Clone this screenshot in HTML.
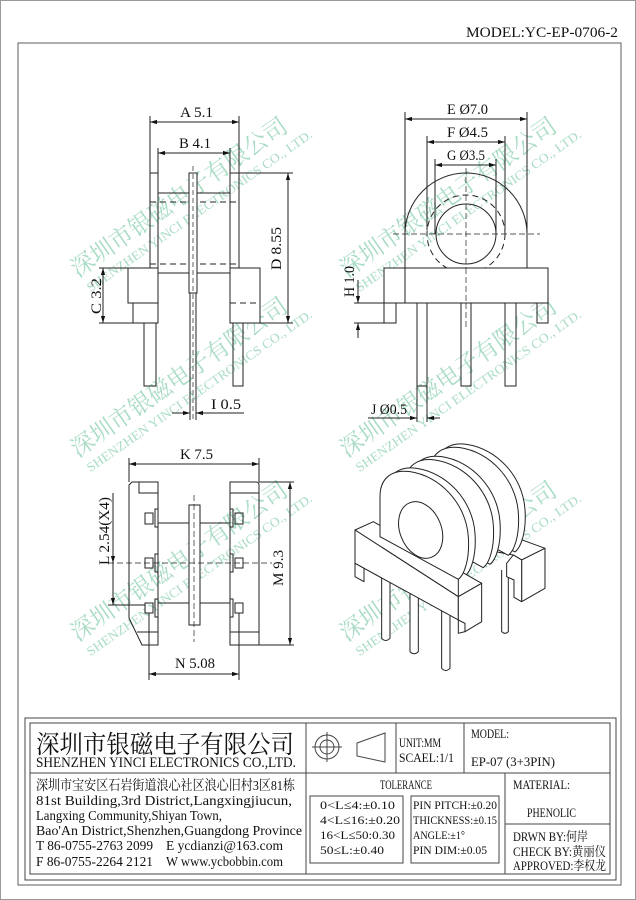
<!DOCTYPE html>
<html><head><meta charset="utf-8"><style>
html,body{margin:0;padding:0;background:#fff;}
svg{display:block;}
text{font-family:"Liberation Serif","Noto Serif CJK SC",serif;fill:#111;}
.wm text{fill:#a9dcc4;}
</style></head><body>
<svg width="636" height="900" viewBox="0 0 636 900" xmlns="http://www.w3.org/2000/svg">
<defs>
<marker id="a" viewBox="0 0 10 10" refX="10" refY="5" markerWidth="7" markerHeight="7" orient="auto-start-reverse" markerUnits="userSpaceOnUse"><path d="M0,2 L10,5 L0,8 z" fill="#111"/></marker>
</defs>
<rect x="0.5" y="0.5" width="635" height="899" fill="#fff" stroke="#999"/>
<rect x="18" y="43" width="603" height="842" fill="none" stroke="#777" stroke-width="1.2"/>
<text x="466" y="37" font-size="15" textLength="152" lengthAdjust="spacingAndGlyphs">MODEL:YC-EP-0706-2</text>

<!-- watermarks -->
<g class="wm">
<g transform="translate(78,278) rotate(-35)"><text x="0" y="0" font-size="24" textLength="258" lengthAdjust="spacingAndGlyphs">深圳市银磁电子有限公司</text><text x="2" y="19" font-size="13" textLength="272" lengthAdjust="spacingAndGlyphs">SHENZHEN YINCI ELECTRONICS CO., LTD.</text></g>
<g transform="translate(347,278) rotate(-35)"><text x="0" y="0" font-size="24" textLength="258" lengthAdjust="spacingAndGlyphs">深圳市银磁电子有限公司</text><text x="2" y="19" font-size="13" textLength="272" lengthAdjust="spacingAndGlyphs">SHENZHEN YINCI ELECTRONICS CO., LTD.</text></g>
<g transform="translate(78,458) rotate(-35)"><text x="0" y="0" font-size="24" textLength="258" lengthAdjust="spacingAndGlyphs">深圳市银磁电子有限公司</text><text x="2" y="19" font-size="13" textLength="272" lengthAdjust="spacingAndGlyphs">SHENZHEN YINCI ELECTRONICS CO., LTD.</text></g>
<g transform="translate(347,458) rotate(-35)"><text x="0" y="0" font-size="24" textLength="258" lengthAdjust="spacingAndGlyphs">深圳市银磁电子有限公司</text><text x="2" y="19" font-size="13" textLength="272" lengthAdjust="spacingAndGlyphs">SHENZHEN YINCI ELECTRONICS CO., LTD.</text></g>
<g transform="translate(78,642) rotate(-35)"><text x="0" y="0" font-size="24" textLength="258" lengthAdjust="spacingAndGlyphs">深圳市银磁电子有限公司</text><text x="2" y="19" font-size="13" textLength="272" lengthAdjust="spacingAndGlyphs">SHENZHEN YINCI ELECTRONICS CO., LTD.</text></g>
<g transform="translate(347,642) rotate(-35)"><text x="0" y="0" font-size="24" textLength="258" lengthAdjust="spacingAndGlyphs">深圳市银磁电子有限公司</text><text x="2" y="19" font-size="13" textLength="272" lengthAdjust="spacingAndGlyphs">SHENZHEN YINCI ELECTRONICS CO., LTD.</text></g>
</g>

<g stroke="#222" stroke-width="1" fill="none">
<!-- ===== Top-left side view ===== -->
<line x1="150" y1="116" x2="150" y2="173"/><line x1="239" y1="116" x2="239" y2="173"/>
<line x1="150" y1="122" x2="239" y2="122" marker-start="url(#a)" marker-end="url(#a)"/>
<line x1="158" y1="148" x2="158" y2="173"/><line x1="230" y1="148" x2="230" y2="173"/>
<line x1="158" y1="153" x2="230" y2="153" marker-start="url(#a)" marker-end="url(#a)"/>
<rect x="150" y="173" width="8" height="97"/><rect x="230" y="173" width="9" height="97"/>
<line x1="158" y1="193" x2="230" y2="193"/>
<line x1="150" y1="202" x2="239" y2="202" stroke-dasharray="6,4"/>
<line x1="150" y1="264" x2="239" y2="264" stroke-dasharray="6,4"/>
<line x1="158" y1="273" x2="230" y2="273"/>
<rect x="189" y="173" width="8" height="120" fill="#fff"/>
<line x1="193" y1="166" x2="193" y2="420" stroke-dasharray="5,3" stroke-width="0.7"/>
<line x1="190" y1="293" x2="190" y2="420"/><line x1="196" y1="293" x2="196" y2="420"/>
<rect x="128" y="268" width="30" height="35" fill="#fff"/>
<rect x="133" y="303" width="25" height="20"/>
<rect x="230" y="268" width="30" height="55" fill="#fff"/>
<line x1="230" y1="303" x2="260" y2="303" stroke-dasharray="6,4"/>
<rect x="144" y="323" width="12" height="63"/>
<rect x="233" y="323" width="10" height="63"/>
<line x1="239" y1="173" x2="293" y2="173"/><line x1="260" y1="323" x2="293" y2="323"/>
<line x1="288" y1="173" x2="288" y2="323" marker-start="url(#a)" marker-end="url(#a)"/>
<line x1="99" y1="268" x2="128" y2="268"/><line x1="99" y1="323" x2="133" y2="323"/>
<line x1="103" y1="268" x2="103" y2="323" marker-start="url(#a)" marker-end="url(#a)"/>
<line x1="172" y1="413" x2="190" y2="413" marker-end="url(#a)"/>
<line x1="244" y1="413" x2="196" y2="413" marker-end="url(#a)"/>

<!-- ===== Top-right front view ===== -->
<line x1="405" y1="112" x2="405" y2="234"/><line x1="527" y1="112" x2="527" y2="234"/>
<line x1="405" y1="119" x2="527" y2="119" marker-start="url(#a)" marker-end="url(#a)"/>
<line x1="427" y1="136" x2="427" y2="230"/><line x1="505" y1="136" x2="505" y2="230"/>
<line x1="427" y1="142" x2="505" y2="142" marker-start="url(#a)" marker-end="url(#a)"/>
<line x1="435" y1="159" x2="435" y2="234"/><line x1="496" y1="159" x2="496" y2="234"/>
<line x1="435" y1="165" x2="496" y2="165" marker-start="url(#a)" marker-end="url(#a)"/>
<path d="M405,303 L405,234 A61,61 0 0 1 527,234 L527,268"/>
<circle cx="466" cy="234" r="39" stroke-dasharray="6,4"/>
<circle cx="466" cy="234" r="30"/>
<line x1="393" y1="234" x2="540" y2="234" stroke-dasharray="6,3" stroke-width="0.7"/>
<line x1="466" y1="168" x2="466" y2="330" stroke-dasharray="6,3" stroke-width="0.7"/>
<rect x="384" y="268" width="164" height="35" fill="#fff"/>
<line x1="405" y1="268" x2="405" y2="303"/>
<line x1="466" y1="268" x2="466" y2="303" stroke-dasharray="6,3" stroke-width="0.7"/>
<rect x="384" y="303" width="12" height="20"/>
<rect x="537" y="303" width="11" height="20"/>
<rect x="417" y="303" width="10" height="83"/>
<rect x="461" y="303" width="10" height="83"/>
<rect x="505" y="303" width="11" height="83"/>
<line x1="354" y1="303" x2="384" y2="303"/><line x1="354" y1="323" x2="384" y2="323"/>
<line x1="358" y1="280" x2="358" y2="303" marker-end="url(#a)"/>
<line x1="358" y1="338" x2="358" y2="323" marker-end="url(#a)"/>
<line x1="417" y1="386" x2="417" y2="422"/><line x1="427" y1="386" x2="427" y2="422"/>
<line x1="368" y1="418" x2="417" y2="418" marker-end="url(#a)"/>
<line x1="440" y1="418" x2="427" y2="418" marker-end="url(#a)"/>

<!-- ===== Bottom-left bottom view ===== -->
<line x1="129" y1="458" x2="129" y2="482"/><line x1="259" y1="458" x2="259" y2="482"/>
<line x1="129" y1="464" x2="259" y2="464" marker-start="url(#a)" marker-end="url(#a)"/>
<path d="M132,482 L158,482 L158,645 L142,645 L129,618 L129,485 Z"/>
<path d="M139,482 L139,493 L158,493"/>
<line x1="137" y1="632" x2="158" y2="632"/>
<path d="M230,482 L256,482 Q259,482 259,485 L259,645 L230,645 Z"/>
<line x1="230" y1="493" x2="259" y2="493"/><line x1="230" y1="632" x2="259" y2="632"/>
<line x1="158" y1="523" x2="230" y2="523"/><line x1="158" y1="603" x2="230" y2="603"/>
<rect x="189" y="505" width="11" height="120" fill="#fff"/>
<line x1="194" y1="495" x2="194" y2="642" stroke-dasharray="6,3" stroke-width="0.7"/>
<line x1="108" y1="563" x2="272" y2="563" stroke-dasharray="6,3" stroke-width="0.7"/>
<rect x="145" y="513" width="8" height="11"/><rect x="145" y="558" width="8" height="10"/><rect x="145" y="603" width="8" height="10"/>
<rect x="155" y="509" width="3" height="18"/><rect x="155" y="554" width="3" height="18"/><rect x="155" y="599" width="3" height="18"/>
<rect x="235" y="513" width="8" height="11"/><rect x="235" y="558" width="8" height="10"/><rect x="235" y="603" width="8" height="10"/>
<rect x="230" y="509" width="3" height="18"/><rect x="230" y="554" width="3" height="18"/><rect x="230" y="599" width="3" height="18"/>
<line x1="108" y1="605" x2="145" y2="605"/>
<line x1="113" y1="493" x2="113" y2="563" marker-end="url(#a)"/>
<line x1="113" y1="563" x2="113" y2="605" marker-end="url(#a)"/>
<line x1="259" y1="482" x2="294" y2="482"/><line x1="259" y1="645" x2="294" y2="645"/>
<line x1="290" y1="482" x2="290" y2="645" marker-start="url(#a)" marker-end="url(#a)"/>
<line x1="149" y1="613" x2="149" y2="680"/><line x1="239" y1="613" x2="239" y2="680"/>
<line x1="149" y1="674" x2="239" y2="674" marker-start="url(#a)" marker-end="url(#a)"/>

<!-- ===== Isometric ===== -->
<g transform="translate(340,440) scale(0.3333)" stroke-width="3" fill="#fff" stroke-linejoin="round">
  <!-- back pin -->
  <path d="M485,390 L485,575 Q495,585 505,575 L505,390"/>
  <!-- right back block -->
  <path d="M440,330 L520,290 L615,325 L545,360 L520,345 Z"/>
  <path d="M545,360 L615,325 L615,445 L545,485 Z"/>
  <path d="M520,345 L545,360 L545,485 L522,472 L522,420 L500,410 L500,370 Z"/>
  <!-- flanges back to front -->
  <g id="fl">
  <path transform="translate(170,-82)" d="M120,290 L120,170 C120,110 160,88 210,95 C300,108 378,190 385,290 C390,360 372,405 355,418 Z"/>
  </g>
  <path transform="translate(150,-72)" d="M120,290 L120,170 C120,110 160,88 210,95 C300,108 378,190 385,290 C390,360 372,405 355,418 Z"/>
  <path transform="translate(95,-45)" d="M120,290 L120,170 C120,110 160,88 210,95 C300,108 378,190 385,290 C390,360 372,405 355,418 Z"/>
  <path transform="translate(75,-35)" d="M120,290 L120,170 C120,110 160,88 210,95 C300,108 378,190 385,290 C390,360 372,405 355,418 Z"/>
  <path transform="translate(20,-10)" d="M120,290 L120,170 C120,110 160,88 210,95 C300,108 378,190 385,290 C390,360 372,405 355,418 Z"/>
  <!-- front pins -->
  <path d="M125,395 L125,595 Q137,608 150,595 L150,395"/>
  <path d="M210,450 L210,635 Q222,648 235,635 L235,450"/>
  <path d="M305,510 L305,685 Q317,698 330,685 L330,510"/>
  <!-- base bar -->
  <path d="M45,270 L100,245 L425,430 L355,470 Z"/>
  <path d="M45,270 L355,470 L355,580 L375,575 L375,550 L355,540 L45,370 Z" />
  <path d="M45,370 L45,410 L72,425 L72,385 Z"/>
  <path d="M355,470 L425,430 L425,545 L375,575 L375,550 L355,540 Z"/>
  <!-- front flange -->
  <path d="M120,290 L120,170 C120,110 160,88 210,95 C300,108 378,190 385,290 C390,360 372,405 355,418 Z"/>
  <line x1="355" y1="418" x2="355" y2="470"/>
  <ellipse cx="242" cy="270" rx="62" ry="88" transform="rotate(-22 242 270)"/>
</g>
</g>

<!-- drawing labels -->
<g font-size="15">
<text x="180" y="117" textLength="33" lengthAdjust="spacingAndGlyphs">A 5.1</text>
<text x="179" y="148" textLength="32" lengthAdjust="spacingAndGlyphs">B 4.1</text>
<text transform="translate(281,270) rotate(-90)" textLength="43" lengthAdjust="spacingAndGlyphs">D 8.55</text>
<text transform="translate(101,314) rotate(-90)" textLength="36" lengthAdjust="spacingAndGlyphs">C 3.2</text>
<text x="211" y="409" textLength="30" lengthAdjust="spacingAndGlyphs">I 0.5</text>
<text x="447" y="114" textLength="41" lengthAdjust="spacingAndGlyphs">E Ø7.0</text>
<text x="447" y="137" textLength="41" lengthAdjust="spacingAndGlyphs">F Ø4.5</text>
<text x="447" y="160" textLength="38" lengthAdjust="spacingAndGlyphs">G Ø3.5</text>
<text transform="translate(354,297) rotate(-90)" textLength="31" lengthAdjust="spacingAndGlyphs">H 1.0</text>
<text x="371" y="414" textLength="36" lengthAdjust="spacingAndGlyphs">J Ø0.5</text>
<text x="180" y="459" textLength="33" lengthAdjust="spacingAndGlyphs">K 7.5</text>
<text transform="translate(109,565) rotate(-90)" textLength="68" lengthAdjust="spacingAndGlyphs">L 2.54(X4)</text>
<text transform="translate(283,586) rotate(-90)" textLength="36" lengthAdjust="spacingAndGlyphs">M 9.3</text>
<text x="175" y="668" textLength="40" lengthAdjust="spacingAndGlyphs">N 5.08</text>
</g>

<!-- ===== Title block ===== -->
<g stroke="#444" fill="none" stroke-width="1">
<rect x="25" y="718" width="591" height="162"/>
<rect x="30" y="723" width="580" height="151"/>
<line x1="30" y1="773" x2="610" y2="773"/>
<line x1="306" y1="723" x2="306" y2="874"/>
<line x1="396" y1="723" x2="396" y2="773"/>
<line x1="464" y1="723" x2="464" y2="773"/>
<line x1="505" y1="773" x2="505" y2="874"/>
<line x1="505" y1="824" x2="610" y2="824"/>
<rect x="310" y="796" width="93" height="67"/>
<rect x="411" y="796" width="88" height="67"/>
<circle cx="327" cy="747" r="12"/><circle cx="327" cy="747" r="7"/>
<line x1="312" y1="747" x2="342" y2="747"/><line x1="327" y1="732" x2="327" y2="762"/>
<path d="M357,743 L385,733 L385,762 L357,756 Z"/>
</g>
<g font-size="14">
<text x="36" y="753" font-size="25" textLength="258" lengthAdjust="spacingAndGlyphs">深圳市银磁电子有限公司</text>
<text x="36" y="767" font-size="15" textLength="260" lengthAdjust="spacingAndGlyphs">SHENZHEN YINCI ELECTRONICS CO.,LTD.</text>
<text x="36" y="790" textLength="259" lengthAdjust="spacingAndGlyphs">深圳市宝安区石岩街道浪心社区浪心旧村3区81栋</text>
<text x="36" y="805" textLength="256" lengthAdjust="spacingAndGlyphs">81st Building,3rd District,Langxingjiucun,</text>
<text x="36" y="820" textLength="186" lengthAdjust="spacingAndGlyphs">Langxing Community,Shiyan Town,</text>
<text x="36" y="835" textLength="266" lengthAdjust="spacingAndGlyphs">Bao'An District,Shenzhen,Guangdong Province</text>
<text x="36" y="850" textLength="117" lengthAdjust="spacingAndGlyphs">T 86-0755-2763 2099</text>
<text x="166" y="850" textLength="117" lengthAdjust="spacingAndGlyphs">E ycdianzi@163.com</text>
<text x="36" y="866" textLength="117" lengthAdjust="spacingAndGlyphs">F 86-0755-2264 2121</text>
<text x="166" y="866" textLength="117" lengthAdjust="spacingAndGlyphs">W www.ycbobbin.com</text>
<text x="399" y="747" font-size="13" textLength="42" lengthAdjust="spacingAndGlyphs">UNIT:MM</text>
<text x="399" y="762" font-size="13" textLength="55" lengthAdjust="spacingAndGlyphs">SCAEL:1/1</text>
<text x="471" y="738" font-size="13" textLength="38" lengthAdjust="spacingAndGlyphs">MODEL:</text>
<text x="471" y="766" font-size="13" textLength="84" lengthAdjust="spacingAndGlyphs">EP-07 (3+3PIN)</text>
<text x="380" y="789" font-size="13" textLength="52" lengthAdjust="spacingAndGlyphs">TOLERANCE</text>
<text x="513" y="789" font-size="13" textLength="57" lengthAdjust="spacingAndGlyphs">MATERIAL:</text>
<text x="527" y="817" font-size="13" textLength="49" lengthAdjust="spacingAndGlyphs">PHENOLIC</text>
<text x="513" y="841" font-size="13" textLength="75" lengthAdjust="spacingAndGlyphs">DRWN BY:何岸</text>
<text x="513" y="856" font-size="13" textLength="93" lengthAdjust="spacingAndGlyphs">CHECK BY:黄丽仪</text>
<text x="513" y="870" font-size="13" textLength="93" lengthAdjust="spacingAndGlyphs">APPROVED:李权龙</text>
<text x="320" y="809" font-size="12" textLength="75" lengthAdjust="spacingAndGlyphs">0&lt;L≤4:±0.10</text>
<text x="320" y="824" font-size="12" textLength="80" lengthAdjust="spacingAndGlyphs">4&lt;L≤16:±0.20</text>
<text x="320" y="839" font-size="12" textLength="75" lengthAdjust="spacingAndGlyphs">16&lt;L≤50:0.30</text>
<text x="320" y="854" font-size="12" textLength="64" lengthAdjust="spacingAndGlyphs">50≤L:±0.40</text>
<text x="413" y="809" font-size="12" textLength="84" lengthAdjust="spacingAndGlyphs">PIN PITCH:±0.20</text>
<text x="413" y="824" font-size="12" textLength="84" lengthAdjust="spacingAndGlyphs">THICKNESS:±0.15</text>
<text x="413" y="839" font-size="12" textLength="52" lengthAdjust="spacingAndGlyphs">ANGLE:±1°</text>
<text x="413" y="854" font-size="12" textLength="74" lengthAdjust="spacingAndGlyphs">PIN DIM:±0.05</text>
</g>
</svg>
</body></html>
